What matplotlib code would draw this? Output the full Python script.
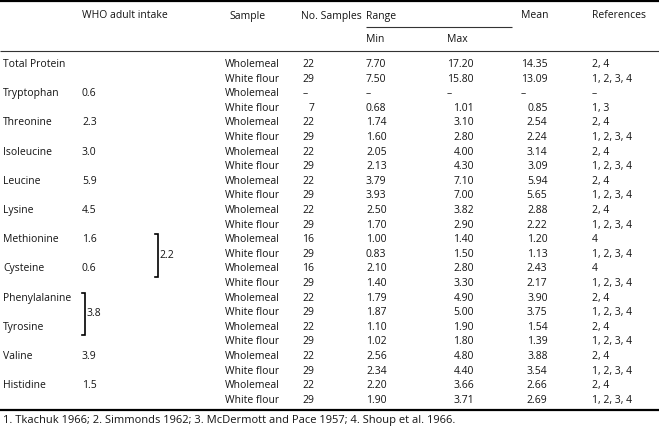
import matplotlib
matplotlib.use("Agg")
import matplotlib.pyplot as plt

plt.rcParams['font.family'] = ['Open Sans', 'DejaVu Sans']

nutrients = ["Total Protein", "Tryptophan", "Threonine", "Isoleucine", "Leucine", "Lysine",
             "Methionine", "Cysteine", "Phenylalanine", "Tyrosine", "Valine", "Histidine"]
who_intake = ["", "0.6", "2.3", "3.0", "5.9", "4.5", "1.6", "0.6", "", "", "3.9", "1.5"]
samples = ["Wholemeal", "White flour"] * 12
n_samples = ["22", "29", "–", "7", "22", "29", "22", "29", "22", "29", "22", "29",
             "16", "29", "16", "29", "22", "29", "22", "29", "22", "29", "22", "29"]
range_min = ["7.70", "7.50", "–", "0.68", "1.74", "1.60", "2.05", "2.13", "3.79", "3.93", "2.50", "1.70",
             "1.00", "0.83", "2.10", "1.40", "1.79", "1.87", "1.10", "1.02", "2.56", "2.34", "2.20", "1.90"]
range_max = ["17.20", "15.80", "–", "1.01", "3.10", "2.80", "4.00", "4.30", "7.10", "7.00", "3.82", "2.90",
             "1.40", "1.50", "2.80", "3.30", "4.90", "5.00", "1.90", "1.80", "4.80", "4.40", "3.66", "3.71"]
means = ["14.35", "13.09", "–", "0.85", "2.54", "2.24", "3.14", "3.09", "5.94", "5.65", "2.88", "2.22",
         "1.20", "1.13", "2.43", "2.17", "3.90", "3.75", "1.54", "1.39", "3.88", "3.54", "2.66", "2.69"]
refs = ["2, 4", "1, 2, 3, 4", "–", "1, 3"] + ["2, 4", "1, 2, 3, 4"] * 4 + ["4", "1, 2, 3, 4"] * 2 \
       + ["2, 4", "1, 2, 3, 4"] * 4
# combined intakes shown with brackets: (first nutrient, last nutrient, value)
combined = [("Methionine", "Cysteine", "2.2"), ("Phenylalanine", "Tyrosine", "3.8")]
footnote = "1. Tkachuk 1966; 2. Simmonds 1962; 3. McDermott and Pace 1957; 4. Shoup et al. 1966."

W, H = 659, 426
fig = plt.figure(figsize=(W / 100, H / 100), dpi=100)
ax = fig.add_axes([0, 0, 1, 1])
ax.set_xlim(0, W)
ax.set_ylim(H, 0)
ax.axis('off')

fs = 7.5
tc = '#141414'
y0, dy = 64.5, 14.6

def txt(x, y, s, ha='left', size=fs):
    ax.text(x, y, s, fontsize=size, color=tc, ha=ha, va='center')

# header
ax.hlines(1, 0, W, color='black', lw=1.6)
txt(82, 16, "WHO adult intake")
txt(229, 16, "Sample")
txt(301, 16, "No. Samples")
txt(366, 16, "Range")
txt(521, 16, "Mean")
txt(592, 16, "References")
ax.hlines(26.5, 366, 512, color='#333333', lw=0.8)
txt(366, 40, "Min")
txt(447, 40, "Max")
ax.hlines(51, 0, W, color='#333333', lw=0.8)

# body
for i, name in enumerate(nutrients):
    y = y0 + 2 * i * dy
    txt(3, y, name)
    txt(82, y, who_intake[i])

for j in range(len(samples)):
    y = y0 + j * dy
    txt(225, y, samples[j])
    if n_samples[j] == "–":
        txt(303, y, "–")
        txt(366, y, "–")
        txt(447, y, "–")
        txt(521, y, "–")
    else:
        txt(314, y, n_samples[j], ha='right')
        txt(366, y, range_min[j])
        txt(474, y, range_max[j], ha='right')
        txt(547.5, y, means[j], ha='right')
    txt(592, y, refs[j])

for first, last, val in combined:
    i1 = nutrients.index(first)
    i2 = nutrients.index(last)
    ya = y0 + 2 * i1 * dy - 5.5
    yb = y0 + 2 * i2 * dy + 8
    xb = 158 if first == "Methionine" else 85
    ax.plot([xb - 3, xb, xb, xb - 3], [ya, ya, yb, yb], color='black', lw=1.2,
            solid_joinstyle='miter')
    txt(xb + 1.5, (ya + yb) / 2, val)

ax.hlines(410, 0, W, color='black', lw=1.6)
txt(3, 420.5, footnote, size=8.0)

fig.savefig("out.png", dpi=100)
